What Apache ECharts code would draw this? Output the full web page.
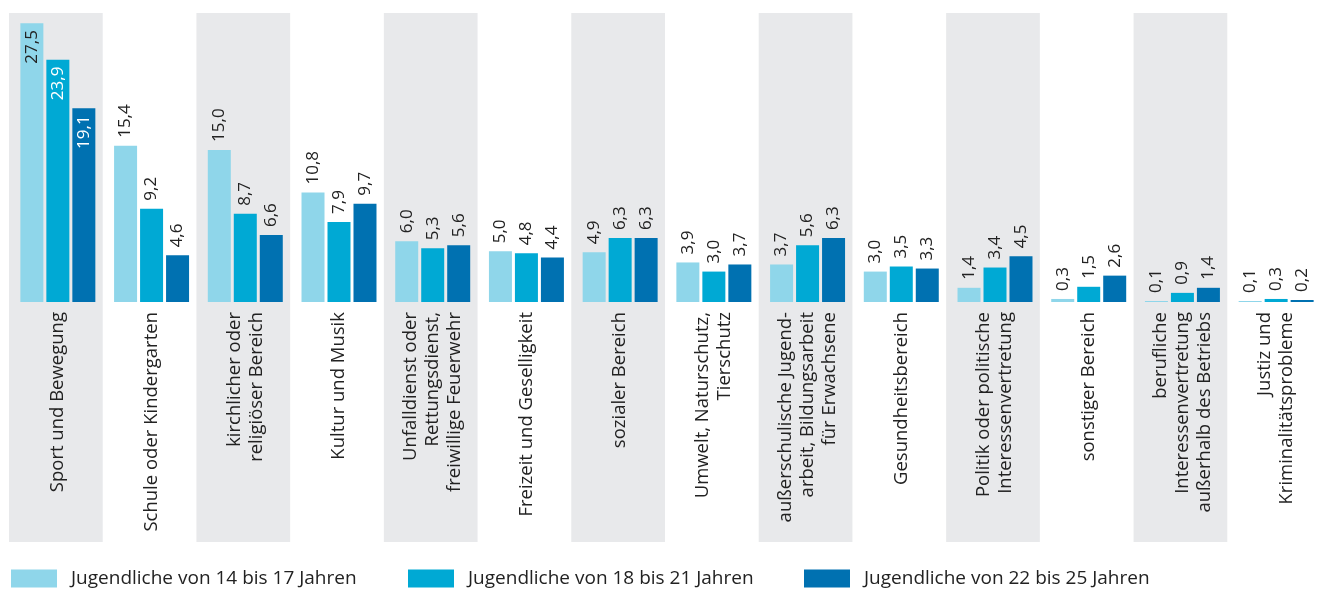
<!DOCTYPE html>
<html>
<head>
<meta charset="utf-8">
<script src="https://cdn.jsdelivr.net/npm/echarts@6/dist/echarts.min.js"></script>
<style>
html, body { margin: 0; padding: 0; background: #fff; }
#chart { width: 1327px; height: 592px; }
</style>
</head>
<body>
<div id="chart"></div>
<script>
// Bereiche des Engagements
var categories = [
	'Sport und Bewegung',
	'Schule oder Kindergarten',
	'kirchlicher oder\nreligiöser Bereich',
	'Kultur und Musik',
	'Unfalldienst oder\nRettungsdienst,\nfreiwillige Feuerwehr',
	'Freizeit und Geselligkeit',
	'sozialer Bereich',
	'Umwelt, Naturschutz,\nTierschutz',
	'außerschulische Jugend-\narbeit, Bildungsarbeit\nfür Erwachsene',
	'Gesundheitsbereich',
	'Politik oder politische\nInteressenvertretung',
	'sonstiger Bereich',
	'berufliche\nInteressenvertretung\naußerhalb des Betriebs',
	'Justiz und\nKriminalitätsprobleme'
];
var seriesNames = [
	'Jugendliche von 14 bis 17 Jahren',
	'Jugendliche von 18 bis 21 Jahren',
	'Jugendliche von 22 bis 25 Jahren'
];
var age14to17 = [27.5, 15.4, 15.0, 10.8, 6.0, 5.0, 4.9, 3.9, 3.7, 3.0, 1.4, 0.3, 0.1, 0.1];
var age18to21 = [23.9, 9.2, 8.7, 7.9, 5.3, 4.8, 6.3, 3.0, 5.6, 3.5, 3.4, 1.5, 0.9, 0.3];
var age22to25 = [19.1, 4.6, 6.6, 9.7, 5.6, 4.4, 6.3, 3.7, 6.3, 3.3, 4.5, 2.6, 1.4, 0.2];

var colors = ['#8fd6ea', '#00a9d4', '#0071b1'];
var insideColors = ['#222', '#fff', '#fff']; // Schrift in den hohen Balken
var font = 'Open Sans';

var chart = echarts.init(document.getElementById('chart'));

function fmt(v) {
	return v.toFixed(1).replace('.', ',');
}

function makeBars(values, idx) {
	return {
		name: seriesNames[idx],
		type: 'bar',
		xAxisIndex: 1,
		yAxisIndex: 1,
		barWidth: 23,
		barGap: '13%',
		barMinHeight: 1,
		itemStyle: { color: colors[idx] },
		label: {
			show: true,
			position: 'top',
			rotate: 90,
			align: 'left',
			verticalAlign: 'middle',
			distance: 8,
			fontFamily: font,
			fontSize: 17,
			color: '#222',
			formatter: function (p) { return fmt(p.value); }
		},
		data: values.map(function (v) {
			if (v > 17) {
				// große Werte stehen im Balken
				return {
					value: v,
					label: {
						position: 'insideTop',
						align: 'right',
						distance: 7,
						color: insideColors[idx]
					}
				};
			}
			return v;
		})
	};
}

var option = {
	animation: false,
	legend: seriesNames.map(function (n, i) {
		return {
			data: [n],
			left: [6, 403, 799][i],
			top: 564,
			icon: 'rect',
			itemWidth: 46,
			itemHeight: 18,
			selectedMode: false,
			textStyle: { fontFamily: font, fontSize: 19, color: '#222', padding: [2, 0, 0, 9] }
		};
	}),
	grid: [
		{ left: 9, width: 1312, top: 13, height: 529 },   // graue Streifen
		{ left: 11, width: 1312, top: 13, height: 289 }   // Balken
	],
	xAxis: [
		{ type: 'category', gridIndex: 0, data: categories, show: false },
		{
			type: 'category',
			gridIndex: 1,
			data: categories,
			axisLine: { show: false },
			axisTick: { show: false },
			axisLabel: {
				interval: 0,
				rotate: 90,
				margin: 10,
				fontFamily: font,
				fontSize: 18.5,
				lineHeight: 22,
				color: '#222'
			}
		}
	],
	yAxis: [
		{ type: 'value', gridIndex: 0, min: 0, max: 1, show: false },
		{ type: 'value', gridIndex: 1, min: 0, max: 28.5, show: false }
	],
	series: [
		{
			type: 'bar',
			xAxisIndex: 0,
			yAxisIndex: 0,
			barWidth: '100%',
			silent: true,
			z: 0,
			itemStyle: { color: '#e8e9eb' },
			data: categories.map(function (c, i) { return i % 2 === 0 ? 1 : 0; })
		},
		makeBars(age14to17, 0),
		makeBars(age18to21, 1),
		makeBars(age22to25, 2)
	]
};
chart.setOption(option);
</script>
</body>
</html>
